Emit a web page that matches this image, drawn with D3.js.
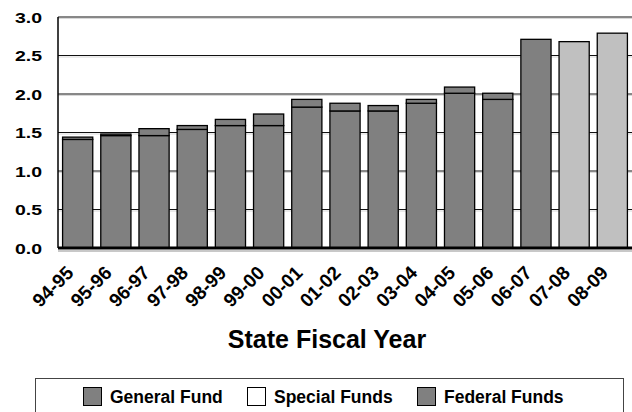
<!DOCTYPE html>
<html>
<head>
<meta charset="utf-8">
<script src="https://cdn.jsdelivr.net/npm/d3@7"></script>
<style>
  body { margin: 0; background: #fff; }
  svg { display: block; font-family: Arial, "Liberation Sans", sans-serif; }
</style>
</head>
<body>
<svg id="chart" width="632" height="412"></svg>
<script>
// fiscal years
var years = ["94-95", "95-96", "96-97", "97-98", "98-99", "99-00", "00-01",
  "01-02", "02-03", "03-04", "04-05", "05-06", "06-07", "07-08", "08-09"];
// billions
var generalFund = [1.41, 1.46, 1.46, 1.54, 1.59, 1.59, 1.83, 1.78, 1.78, 1.88, 2.01, 1.93, 2.71, 0, 0];
var specialFunds = [0, 0, 0, 0, 0, 0, 0, 0, 0, 0, 0, 0, 0, 0, 0];
var federalFunds = [0.03, 0.02, 0.09, 0.05, 0.08, 0.15, 0.10, 0.10, 0.07, 0.05, 0.08, 0.08, 0, 0, 0];
var projected = [0, 0, 0, 0, 0, 0, 0, 0, 0, 0, 0, 0, 0, 2.68, 2.79];
var yTicks = [0, 0.5, 1.0, 1.5, 2.0, 2.5, 3.0];
var legendLabels = ["General Fund", "Special Funds", "Federal Funds"];

var svg = d3.select("#chart");

var plotLeft = 58, plotRight = 632, plotTop = 17, plotBottom = 248;

var data = years.map(function(y, i) {
  return { year: y, general: generalFund[i], special: specialFunds[i],
    federal: federalFunds[i], projected: projected[i] };
});

var keys = ["general", "special", "federal", "projected"];
var colors = { general: "#808080", special: "#ffffff", federal: "#808080", projected: "#c0c0c0" };

var x = d3.scaleBand()
  .domain(years)
  .range([plotLeft, plotRight])
  .paddingInner(0.21)
  .paddingOuter(0.12);

var y = d3.scaleLinear()
  .domain([0, 3])
  .range([plotBottom, plotTop]);

// gridlines with a faint shadow
var grid = svg.append("g");
grid.selectAll(".shadow")
  .data(yTicks.filter(function(d) { return d > 0; }))
  .enter().append("line")
  .attr("x1", plotLeft).attr("x2", plotRight)
  .attr("y1", function(d) { return y(d) + 1.5; })
  .attr("y2", function(d) { return y(d) + 1.5; })
  .style("stroke", "#d8d8d8")
  .style("stroke-width", 1);
grid.selectAll(".gl")
  .data(yTicks.filter(function(d) { return d > 0; }))
  .enter().append("line")
  .attr("x1", plotLeft).attr("x2", plotRight)
  .attr("y1", function(d) { return y(d); })
  .attr("y2", function(d) { return y(d); })
  .style("stroke", "#111")
  .style("stroke-width", 1);

// y labels
svg.append("g").selectAll("text")
  .data(yTicks)
  .enter().append("text")
  .attr("transform", function(d) { return "translate(42," + (y(d) + 5.5) + ") scale(1.3,1)"; })
  .style("font-size", "15px")
  .style("font-weight", "bold")
  .style("text-anchor", "end")
  .style("fill", "#000")
  .text(function(d) { return d3.format(".1f")(d); });

// stacked bars
var series = d3.stack().keys(keys)(data);

svg.append("g").selectAll("g")
  .data(series)
  .enter().append("g")
  .style("fill", function(d) { return colors[d.key]; })
  .selectAll("rect")
  .data(function(d) { return d.filter(function(s) { return s[1] - s[0] > 0; }); })
  .enter().append("rect")
  .attr("x", function(d) { return x(d.data.year); })
  .attr("y", function(d) { return y(d[1]); })
  .attr("width", x.bandwidth())
  .attr("height", function(d) { return y(d[0]) - y(d[1]); })
  .style("stroke", "#000")
  .style("stroke-width", 1.3);

// baseline and left axis
svg.append("line")
  .attr("x1", plotLeft).attr("x2", plotRight)
  .attr("y1", plotBottom + 3).attr("y2", plotBottom + 3)
  .style("stroke", "#c8c8c8").style("stroke-width", 2);
svg.append("line")
  .attr("x1", plotLeft).attr("x2", plotRight)
  .attr("y1", plotBottom).attr("y2", plotBottom)
  .style("stroke", "#000").style("stroke-width", 3);
svg.append("line")
  .attr("x1", plotLeft).attr("x2", plotLeft)
  .attr("y1", plotTop).attr("y2", plotBottom)
  .style("stroke", "#000").style("stroke-width", 1.5);

// x labels
svg.append("g").selectAll("text")
  .data(years)
  .enter().append("text")
  .attr("transform", function(d) {
    return "translate(" + (x(d) + x.bandwidth() / 2 - 3) + ",274) rotate(-45)";
  })
  .style("font-size", "19px")
  .style("font-weight", "bold")
  .style("text-anchor", "end")
  .text(function(d) { return d; });

svg.append("text")
  .attr("x", 327)
  .attr("y", 348)
  .style("font-size", "25px")
  .style("font-weight", "bold")
  .style("text-anchor", "middle")
  .text("State Fiscal Year");

// legend
svg.append("rect")
  .attr("x", 35.5).attr("y", 378.5)
  .attr("width", 588).attr("height", 60)
  .style("fill", "none")
  .style("stroke", "#444")
  .style("stroke-width", 1);

var legendX = [83, 247, 417];
var legendColors = [colors.general, colors.special, colors.federal];
var legend = svg.selectAll(".legend")
  .data(legendLabels)
  .enter().append("g")
  .attr("class", "legend")
  .attr("transform", function(d, i) { return "translate(" + legendX[i] + ",387)"; });

legend.append("rect")
  .attr("x", 0.5).attr("y", 0.5)
  .attr("width", 18).attr("height", 18)
  .style("fill", function(d, i) { return legendColors[i]; })
  .style("stroke", "#000")
  .style("stroke-width", 1);

legend.append("text")
  .attr("x", 27)
  .attr("y", 16)
  .style("font-size", "17.5px")
  .style("font-weight", "bold")
  .text(function(d) { return d; });
</script>
</body>
</html>
